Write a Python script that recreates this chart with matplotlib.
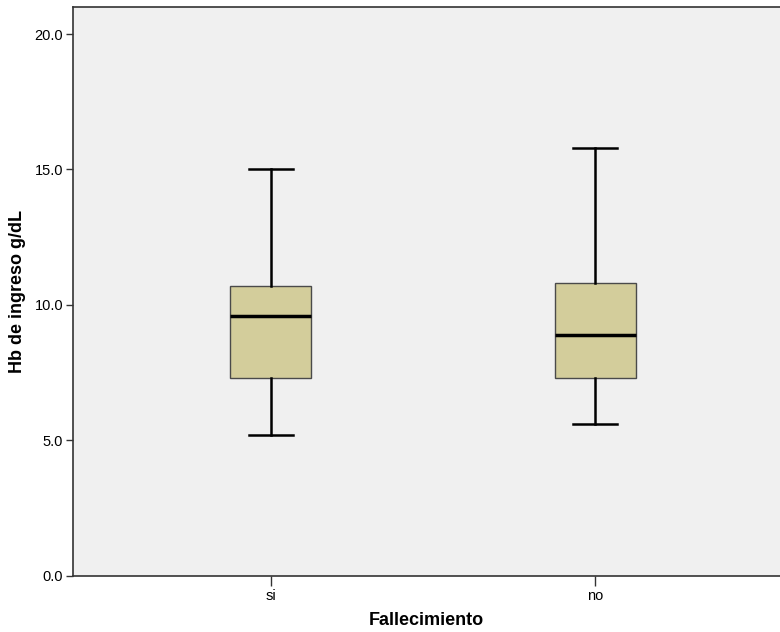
import matplotlib
matplotlib.use("Agg")
import matplotlib.pyplot as plt

plt.rcParams['font.family'] = ['Liberation Sans', 'DejaVu Sans']

# values
groups = ["si", "no"]
whislo = [5.2, 5.6]
q1 = [7.3, 7.3]
med = [9.6, 8.9]
q3 = [10.7, 10.8]
whishi = [15.0, 15.8]

stats = []
for i, g in enumerate(groups):
    stats.append({"label": g, "whislo": whislo[i], "q1": q1[i], "med": med[i],
                  "q3": q3[i], "whishi": whishi[i], "fliers": []})

fig = plt.figure(figsize=(7.8, 6.32), dpi=100)
ax = fig.add_axes([73 / 780, 1 - 575.5 / 632, 1 - 73 / 780, (575.5 - 7) / 632])
ax.set_facecolor("#f0f0f0")

ax.bxp(stats, positions=[1, 2], widths=0.25, patch_artist=True, showfliers=False,
       boxprops=dict(facecolor="#d3cd9b", edgecolor="#4a4a4a", linewidth=1.0),
       medianprops=dict(color="black", linewidth=2.5),
       whiskerprops=dict(color="black", linewidth=1.8),
       capprops=dict(color="black", linewidth=1.8),
       capwidths=0.135)

ax.set_xlim(0.39, 2.57)
ax.set_ylim(0, 21)
ax.set_yticks([0, 5, 10, 15, 20])
ax.set_yticklabels(["0.0", "5.0", "10.0", "15.0", "20.0"])
ax.set_xticks([1, 2])
ax.set_xticklabels(groups)

for s in ["left", "bottom", "top"]:
    ax.spines[s].set_color("#333333")
    ax.spines[s].set_linewidth(1.2)
ax.spines["right"].set_visible(False)

ax.tick_params(axis="y", length=5, width=1, color="#333333", labelsize=10.5, pad=2)
ax.tick_params(axis="x", length=7, width=1, color="#333333", labelsize=10.5, pad=3)

ax.set_ylabel("Hb de ingreso g/dL", fontsize=13, fontweight="bold", labelpad=6)
ax.set_xlabel("Fallecimiento", fontsize=13, fontweight="bold", labelpad=6)

fig.savefig("out.png", dpi=100)
